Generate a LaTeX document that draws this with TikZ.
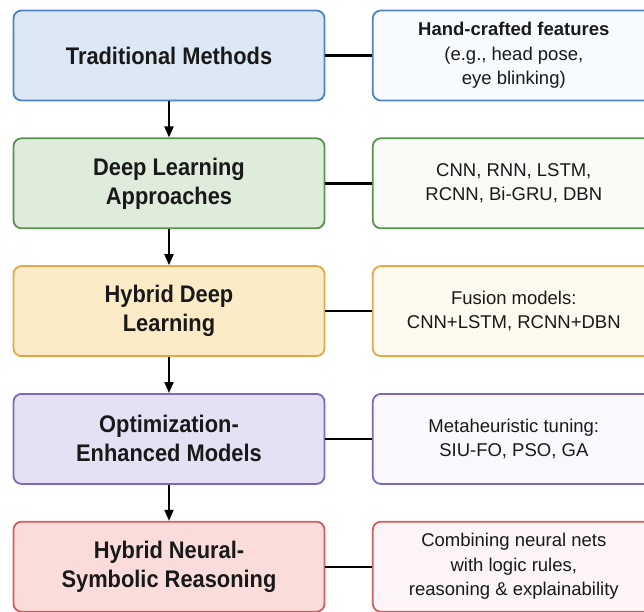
\documentclass[tikz,border=0pt]{standalone}
\usepackage{fontspec}
\setmainfont{Liberation Sans}
\newfontfamily\stagefont[FakeStretch=0.91]{Liberation Sans}
\usetikzlibrary{positioning,arrows.meta}

% couleurs des étapes
\definecolor{tradline}{HTML}{4F82C2}
\definecolor{tradfill}{HTML}{DDE8F6}
\definecolor{tradside}{HTML}{F7FAFE}
\definecolor{deepline}{HTML}{5A9150}
\definecolor{deepfill}{HTML}{DFEBDB}
\definecolor{deepside}{HTML}{F8FBF6}
\definecolor{hybline}{HTML}{E0AA48}
\definecolor{hybfill}{HTML}{FCEBC7}
\definecolor{hybside}{HTML}{FEFAEF}
\definecolor{optline}{HTML}{8068B8}
\definecolor{optfill}{HTML}{E6E0F4}
\definecolor{optside}{HTML}{FAF8FD}
\definecolor{symline}{HTML}{D45E5E}
\definecolor{symfill}{HTML}{FADCDB}
\definecolor{symside}{HTML}{FDF5F5}

\begin{document}
\begin{tikzpicture}[
    stage/.style={draw, line width=1.8pt, rounded corners=8pt, minimum width=311pt,
        minimum height=90pt, inner sep=0pt, align=center, text=black!90,
        font=\stagefont\fontsize{24}{29}\selectfont\bfseries},
    detail/.style={draw, line width=1.8pt, rounded corners=8pt, minimum width=282pt,
        minimum height=90pt, inner sep=0pt, align=center, text=black!90,
        font=\fontsize{18.5}{24.5}\selectfont},
    flow/.style={-{Triangle[length=11pt,width=9pt]}, line width=2pt},
    link/.style={line width=2.4pt}
]
    \useasboundingbox (0,0) rectangle (644pt,-611pt);

    % Colonne des étapes
    \node[stage, draw=tradline, fill=tradfill] (trad) at (169pt,-55.5pt) {Traditional Methods};
    \node[stage, draw=deepline, fill=deepfill, below=36pt of trad] (deep) {Deep Learning\\Approaches};
    \node[stage, draw=hybline, fill=hybfill, below=36pt of deep] (hyb) {Hybrid Deep\\Learning};
    \node[stage, draw=optline, fill=optfill, below=36pt of hyb] (opt) {Optimization-\\Enhanced Models};
    \node[stage, draw=symline, fill=symfill, below=36pt of opt] (sym) {Hybrid Neural-\\Symbolic Reasoning};

    % Colonne des détails
    \node[detail, draw=tradline, fill=tradside, right=46.5pt of trad] (tradx) {\textbf{Hand-crafted features}\\(e.g., head pose,\\eye blinking)};
    \node[detail, draw=deepline, fill=deepside, right=46.5pt of deep] (deepx) {CNN, RNN, LSTM,\\RCNN, Bi-GRU, DBN};
    \node[detail, draw=hybline, fill=hybside, right=46.5pt of hyb] (hybx) {Fusion models:\\CNN+LSTM, RCNN+DBN};
    \node[detail, draw=optline, fill=optside, right=46.5pt of opt] (optx) {Metaheuristic tuning:\\SIU-FO, PSO, GA};
    \node[detail, draw=symline, fill=symside, right=46.5pt of sym] (symx) {Combining neural nets\\with logic rules,\\reasoning \& explainability};

    % Flèches verticales
    \draw[flow] (trad) -- (deep);
    \draw[flow] (deep) -- (hyb);
    \draw[flow] (hyb) -- (opt);
    \draw[flow] (opt) -- (sym);

    % Liaisons horizontales
    \draw[link] (trad) -- (tradx);
    \draw[link] (deep) -- (deepx);
    \draw[link] (hyb) -- (hybx);
    \draw[link] (opt) -- (optx);
    \draw[link] (sym) -- (symx);
\end{tikzpicture}
\end{document}
